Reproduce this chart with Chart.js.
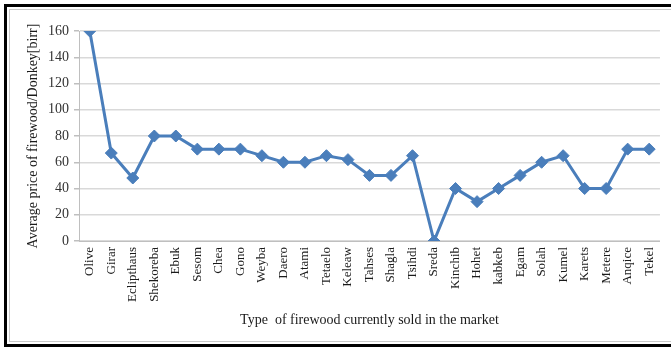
<!DOCTYPE html>
<html>
<head>
<meta charset="utf-8">
<script src="https://cdn.jsdelivr.net/npm/chart.js@4"></script>
<style>
  html, body { margin: 0; background: #fff; overflow: hidden; }
  #frame {
    position: absolute; left: 4px; top: 4px; width: 667px; height: 337px;
    border-left: 3px solid #000; border-top: 3px solid #000; border-bottom: 3px solid #000;
  }
  #inner {
    position: absolute; left: 2px; top: 2px; right: 0; bottom: 2px;
    border-left: 1px solid #c8c8c8; border-top: 1px solid #c8c8c8; border-bottom: 1px solid #c8c8c8;
  }
  #wrap { position: absolute; left: 0; top: 0; width: 671px; height: 347px; }
</style>
</head>
<body>
<div id="frame"><div id="inner"></div></div>
<div id="wrap"><canvas id="priceChart" width="671" height="347"></canvas></div>
<script>
  // firewood types and average price per donkey load (birr)
  var woodTypes = ['Olive', 'Girar', 'Eclipthaus', 'Shekoreba', 'Ebuk', 'Sesom', 'Chea', 'Gono', 'Weyba',
    'Daero', 'Atami', 'Tetaelo', 'Keleaw', 'Tahses', 'Shagla', 'Tsihdi', 'Sreda', 'Kinchib', 'Hohet',
    'kabkeb', 'Egam', 'Solah', 'Kumel', 'Karets', 'Metere', 'Anqice', 'Tekel'];
  var avgPrice = [160, 67, 48, 80, 80, 70, 70, 70, 65, 60, 60, 65, 62, 50, 50, 65, 0, 40, 30, 40, 50, 60, 65, 40, 40, 70, 70];
  var yTicks = [0, 20, 40, 60, 80, 100, 120, 140, 160];

  var serif = 'Liberation Serif';
  var blue = '#4a7ebb';

  const ctx = document.getElementById('priceChart').getContext('2d');
  let chart = new Chart(ctx, {
    type: 'line',
    data: {
      labels: woodTypes,
      datasets: [{
        label: 'Average price',
        data: avgPrice,
        borderColor: blue,
        backgroundColor: blue,
        borderWidth: 3,
        pointStyle: 'rectRot',
        pointRadius: 6,
        pointBorderWidth: 1,
        pointBorderColor: blue,
        pointBackgroundColor: blue,
        tension: 0
      }]
    },
    options: {
      responsive: false,
      animation: false,
      layout: { padding: { left: 25, top: 31, right: 11, bottom: 18 } },
      plugins: {
        legend: { display: false },
        tooltip: { enabled: false }
      },
      scales: {
        x: {
          offset: true,
          grid: { display: false, drawTicks: false },
          border: { display: true, color: '#bfbfbf', width: 1 },
          ticks: {
            autoSkip: false, maxRotation: 90, minRotation: 90, padding: 6,
            color: '#1a1a1a', font: { family: serif, size: 13 }
          },
          title: {
            display: true, text: 'Type  of firewood currently sold in the market',
            color: '#1a1a1a', font: { family: serif, size: 14 }, padding: { top: 0, bottom: 0 }
          },
          afterFit: function (scale) { scale.height = 347 - 241 - 18; }
        },
        y: {
          min: 0, max: 160,
          afterBuildTicks: function (scale) { scale.ticks = yTicks.map(v => ({ value: v })); },
          grid: { color: '#d9d9d9', lineWidth: 1.5, tickLength: 5, tickColor: '#bfbfbf' },
          border: { display: true, color: '#bfbfbf', width: 1 },
          ticks: { padding: 5, color: '#333', font: { family: serif, size: 14 } },
          title: {
            display: true, text: 'Average price of firewood/Donkey[birr]',
            color: '#1a1a1a', font: { family: serif, size: 14 }, padding: { top: 0, bottom: 0 }
          },
          afterFit: function (scale) { scale.width = 79 - 25; }
        }
      }
    }
  });
</script>
</body>
</html>
